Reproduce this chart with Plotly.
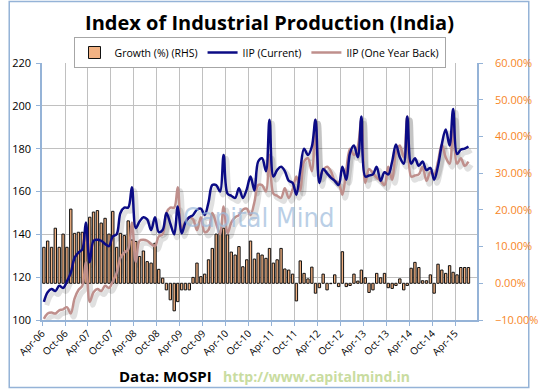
import pandas as pd
import plotly.graph_objects as go

# ---------------- data ----------------
start_month = "2006-04-01"
n_months = 112

iip_current = [
    108.5, 113, 114.5, 113.5, 116, 115, 118, 122, 129, 131.5, 133, 145.5,
    127, 137, 137.5, 137, 135.5, 134.5, 139, 140, 150, 152.5, 152.5, 162,
    143, 146, 148, 147, 142, 148, 141, 142, 150, 145, 140, 153,
    140.5, 145.5, 148, 149, 151.5, 152, 149, 155, 163, 163, 160, 177,
    159, 158, 157, 161.5, 157, 161, 167, 160.5, 174, 175.5, 169.5, 193.5,
    167, 170, 171.5, 169.5, 165, 164, 158.5, 170, 180, 177, 181, 193.5,
    164, 170.5, 168.5, 166.5, 165, 163, 171.5, 165.5, 178, 181.5, 176, 195,
    167, 167.5, 168, 171.5, 165, 169, 168, 174, 182, 176, 173, 195,
    173, 175.5, 172, 174, 170, 171, 165.5, 172, 182, 189, 181.5, 198.5,
    177.5, 179.5, 180, 181,
]

iip_one_year_back = [
    100.5, 103, 103.5, 103, 104.5, 105, 106, 103, 110, 114, 116, 127,
    108.5, 113, 114.5, 113.5, 116, 115, 118, 122, 129, 131.5, 133, 145.5,
    127, 137, 137.5, 137, 135.5, 134.5, 139, 140, 150, 152.5, 152.5, 162,
    143, 146, 148, 147, 142, 148, 141, 142, 150, 145, 140, 153,
    140.5, 145.5, 148, 149, 151.5, 152, 149, 155, 163, 163, 160, 177,
    159, 158, 157, 161.5, 157, 161, 167, 160.5, 174, 175.5, 169.5, 193.5,
    167, 170, 171.5, 169.5, 165, 164, 158.5, 170, 180, 177, 181, 193.5,
    164, 170.5, 168.5, 166.5, 165, 163, 171.5, 165.5, 178, 181.5, 176, 195,
    167, 167.5, 168, 171.5, 165, 169, 168, 174, 182, 176, 173, 195,
    173, 175.5, 172, 174,
]

growth_pct = [
    9.8, 11.5, 9.8, 15.0, 9.8, 13.4, 9.8, 20.2, 13.6, 13.9, 13.9, 14.5,
    18.0, 19.4, 19.8, 16.4, 17.7, 13.4, 19.6, 9.8, 13.6, 13.0, 17.0, 11.8,
    11.4, 7.3, 8.8, 5.9, 5.5, 10.9, 3.8, 1.4, -1.8, -4.5, -7.5, -5.0,
    -1.8, -1.8, -1.8, 1.6, 5.5, 1.8, 2.5, 6.4, 9.5, 13.4, 14.1, 15.0,
    13.2, 8.5, 7.7, 10.0, 4.5, 6.4, 11.5, 6.6, 8.2, 7.7, 6.8, 9.5,
    5.5, 6.4, 9.5, 3.9, 3.6, 2.5, -4.8, 6.1, 2.7, 1.2, 4.4, -2.7,
    -1.2, 2.5, -1.8, -0.1, 2.3, -0.9, 8.6, -0.9, -0.6, 2.5, 0.6, 3.6,
    1.5, -2.5, -1.8, 2.7, 1.5, 2.7, -1.2, -1.4, -0.6, 1.2, -1.8, -0.6,
    4.1, 5.7, 4.3, 0.7, 0.7, 2.3, -2.7, 5.2, 3.6, 2.7, 4.8, 3.0,
    2.3, 4.3, 4.3, 4.3,
]

tick_dates = [f"{y}-{m:02d}-01" for y in range(2006, 2016) for m in (4, 10)][:19]
tick_labels = [f"{'Apr' if m == 4 else 'Oct'}-{str(y)[2:]}" for y in range(2006, 2016) for m in (4, 10)][:19]

months = pd.date_range(start_month, periods=n_months, freq="MS") + pd.Timedelta(days=15)

# ---------------- styling ----------------
NAVY = "#0b0b85"
ROSY = "#bf8f8c"
BAR = "#f2b283"
AXIS = "#95b3d7"
GRID = "#c0c0c0"
ORANGE = "#f7861f"
FONT = "Open Sans"

W, H = 550, 390
L, R, T, B = 36, 56, 63, 70
PW, PH = W - L - R, H - T - B

x_lo, x_hi = pd.Timestamp("2006-04-01"), pd.Timestamp("2015-09-22")
px_per_day = PW / (x_hi - x_lo).days
sh_dx = pd.Timedelta(days=3.0 / px_per_day)   # shadow offset right
sh_dy = 3.5 * 120 / PH                         # shadow offset down (IIP units)

fig = go.Figure()

# shadows (base subplot, drawn first)
for ys, nm in ((iip_one_year_back, "sb"), (iip_current, "sc")):
    fig.add_trace(go.Scatter(
        x=months, y=ys, mode="lines", line=dict(color="rgba(0,0,0,0.12)", width=5, shape="spline", smoothing=1),
        xaxis="x", yaxis="y", showlegend=False, hoverinfo="skip", name=nm))

fig.add_trace(go.Bar(
    x=months, y=growth_pct, name="Growth (%) (RHS)", xaxis="x2", yaxis="y2", legendrank=1,
    marker=dict(color=BAR, line=dict(color="#111111", width=1)),
    width=19 * 86400000))

fig.add_trace(go.Scatter(
    x=months, y=iip_one_year_back, name="IIP (One Year Back)", xaxis="x2", yaxis="y3", mode="lines",
    legendrank=3, line=dict(color=ROSY, width=2.5, shape="spline", smoothing=1)))
fig.add_trace(go.Scatter(
    x=months, y=iip_current, name="IIP (Current)", xaxis="x2", yaxis="y3", mode="lines",
    legendrank=2, line=dict(color=NAVY, width=2.5, shape="spline", smoothing=1)))

fig.update_layout(
    width=W, height=H, autosize=False,
    margin=dict(l=L, r=R, t=T, b=B, pad=0),
    paper_bgcolor="white", plot_bgcolor="white",
    font=dict(family=FONT, size=11, color="#000000"),
    showlegend=True,
    legend=dict(orientation="h", x=0.5, xanchor="center", y=1 + 26 / PH, yanchor="top",
                bordercolor="#a6a6a6", borderwidth=1, bgcolor="white",
                font=dict(size=10.5, family=FONT, color="#000"), traceorder="normal",
                itemwidth=30, tracegroupgap=0),
    title=dict(text="<b>Index of Industrial Production (India)</b>", x=0.49, xanchor="center",
               y=1 - 23 / H, yanchor="middle", font=dict(size=20, family=FONT, color="#000")),
    xaxis=dict(type="date", range=[x_lo - sh_dx, x_hi - sh_dx], visible=False),
    yaxis=dict(range=[100 + sh_dy, 220 + sh_dy], visible=False),
    xaxis2=dict(type="date", overlaying="x", range=[x_lo, x_hi],
                tickmode="array", tickvals=tick_dates, ticktext=tick_labels, tickangle=-45,
                showgrid=True, gridcolor=GRID, gridwidth=1,
                showline=True, linecolor=AXIS, linewidth=1.5,
                ticks="outside", ticklen=4, tickcolor=AXIS, ticklabelstandoff=-2,
                tickfont=dict(size=10, color="#000")),
    yaxis2=dict(overlaying="y", side="right", range=[-10, 60], dtick=10, tick0=0,
                tickformat=".2f", ticksuffix="%", showgrid=False, zeroline=False,
                showline=True, linecolor=AXIS, linewidth=1.5,
                ticks="outside", ticklen=4, tickcolor=AXIS, ticklabelstandoff=10,
                tickfont=dict(size=11, color=ORANGE)),
    yaxis3=dict(overlaying="y", side="left", range=[100, 220], dtick=20,
                showgrid=True, gridcolor=GRID, gridwidth=1, zeroline=False,
                showline=True, linecolor=AXIS, linewidth=1.5,
                ticks="outside", ticklen=4, tickcolor=AXIS, ticklabelstandoff=3,
                tickfont=dict(size=11, color="#000")),
)

def px2paper_x(px):
    return (px - L) / PW

def px2paper_y(py):
    return (H - B - py) / PH

fig.add_annotation(text="Capital Mind", x=px2paper_x(264), y=px2paper_y(217),
                   xref="paper", yref="paper", showarrow=False, xanchor="center", yanchor="middle",
                   font=dict(family="DejaVu Sans Condensed, Roboto Condensed, Roboto", size=27, color="#9dbbdc"),
                   opacity=0.7)
fig.add_annotation(text="<b>Data: MOSPI</b>", x=px2paper_x(166), y=px2paper_y(376),
                   xref="paper", yref="paper", showarrow=False, xanchor="center", yanchor="middle",
                   font=dict(family=FONT, size=15, color="#000"))
fig.add_annotation(text="<b>http://www.capitalmind.in</b>", x=px2paper_x(325), y=px2paper_y(376),
                   xref="paper", yref="paper", showarrow=False, xanchor="center", yanchor="middle",
                   font=dict(family=FONT, size=14, color="#c9dca0"))

fig.add_shape(type="rect", xref="paper", yref="paper",
              x0=px2paper_x(1.5), x1=px2paper_x(548.5), y0=px2paper_y(387.5), y1=px2paper_y(1.5),
              line=dict(color=AXIS, width=1.5), layer="below")

fig.write_html("out.html", config={"displayModeBar": False},
               post_script="document.body.style.margin='0';")
